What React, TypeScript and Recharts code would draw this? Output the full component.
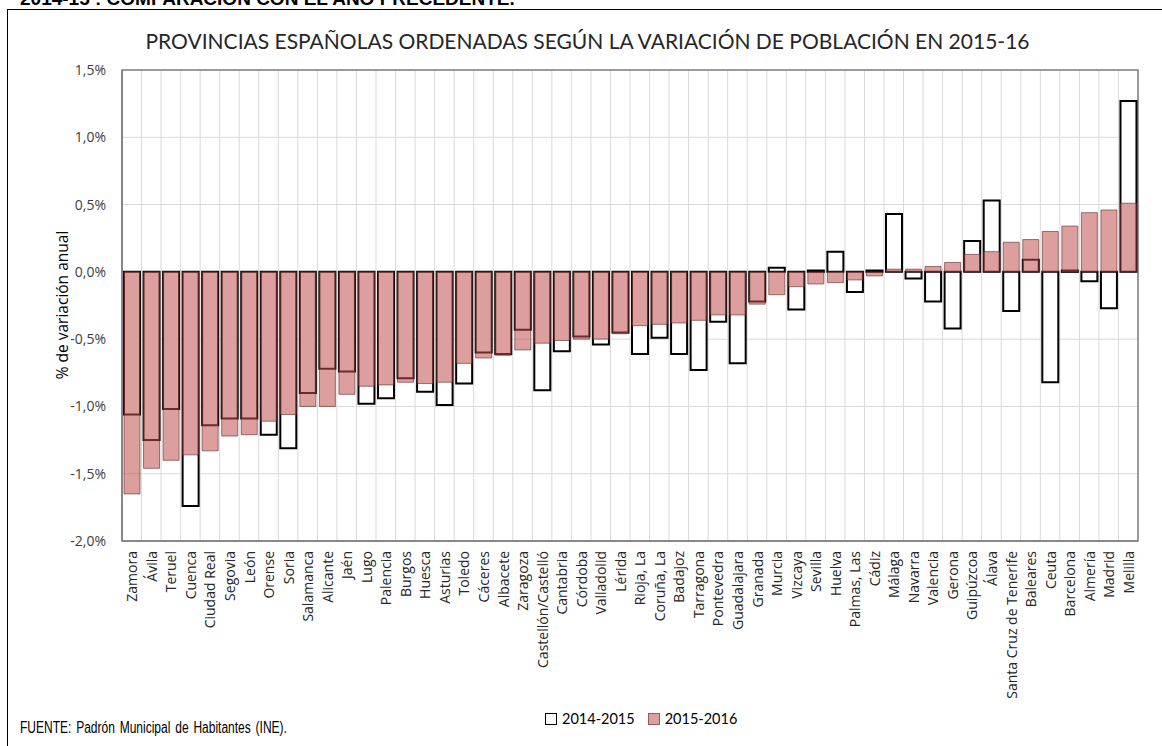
import React from 'react';
import { BarChart, Bar, XAxis, YAxis, CartesianGrid, ReferenceArea } from 'recharts';

// provincias ordenadas por variación 2015-16
const provincias = [
  'Zamora', 'Ávila', 'Teruel', 'Cuenca', 'Ciudad Real', 'Segovia', 'León', 'Orense', 'Soria',
  'Salamanca', 'Alicante', 'Jaén', 'Lugo', 'Palencia', 'Burgos', 'Huesca', 'Asturias', 'Toledo',
  'Cáceres', 'Albacete', 'Zaragoza', 'Castellón/Castelló', 'Cantabria', 'Córdoba', 'Valladolid',
  'Lérida', 'Rioja, La', 'Coruña, La', 'Badajoz', 'Tarragona', 'Pontevedra', 'Guadalajara',
  'Granada', 'Murcia', 'Vizcaya', 'Sevilla', 'Huelva', 'Palmas, Las', 'Cádiz', 'Málaga', 'Navarra',
  'Valencia', 'Gerona', 'Guipúzcoa', 'Álava', 'Santa Cruz de Tenerife', 'Baleares', 'Ceuta',
  'Barcelona', 'Almería', 'Madrid', 'Melilla',
];

const var1415 = [
  -1.06, -1.25, -1.02, -1.74, -1.14, -1.09, -1.09, -1.21, -1.31,
  -0.9, -0.72, -0.74, -0.98, -0.94, -0.79, -0.89, -0.99, -0.83,
  -0.6, -0.61, -0.43, -0.88, -0.59, -0.48, -0.54,
  -0.45, -0.61, -0.49, -0.61, -0.73, -0.37, -0.68,
  -0.22, 0.03, -0.28, 0.01, 0.15, -0.15, 0.01, 0.43, -0.05,
  -0.22, -0.42, 0.23, 0.53, -0.29, 0.09, -0.82,
  0.01, -0.07, -0.27, 1.27,
];

const var1516 = [
  -1.65, -1.46, -1.4, -1.36, -1.33, -1.22, -1.21, -1.11, -1.06,
  -1.0, -1.0, -0.91, -0.85, -0.84, -0.82, -0.83, -0.82, -0.68,
  -0.64, -0.62, -0.58, -0.53, -0.51, -0.5, -0.5,
  -0.46, -0.4, -0.39, -0.38, -0.36, -0.32, -0.32,
  -0.24, -0.17, -0.11, -0.09, -0.08, -0.06, -0.03, 0.02, 0.02,
  0.04, 0.07, 0.13, 0.15, 0.22, 0.24, 0.3,
  0.34, 0.44, 0.46, 0.51,
];

const yTicks = [-2, -1.5, -1, -0.5, 0, 0.5, 1, 1.5];

const data = provincias.map((p, i) => ({ provincia: p, v1415: var1415[i], v1516: var1516[i] }));

const fmtPct = (v: number) => v.toFixed(1).replace('.', ',') + '%';

const ProvTick = ({ x, y, payload }: any) => (
  <text
    x={x}
    y={y}
    transform={`rotate(-90, ${x}, ${y})`}
    textAnchor="end"
    dominantBaseline="central"
    fontFamily="'Open Sans', sans-serif"
    fontSize={14}
    fill="#262626"
  >
    {payload.value}
  </text>
);

// vertical grid lines on the category boundaries
const boundaries = ({ offset }: any) =>
  provincias.map((_, i) => offset.left + (i * offset.width) / provincias.length).concat(offset.left + offset.width);

export default function App() {
  return (
    <div style={{ position: 'absolute', left: 0, top: 0, width: 1162, height: 746, background: '#fff', overflow: 'hidden' }}>
      <div
        style={{
          position: 'absolute', left: 20, top: -12, fontFamily: "'Liberation Sans', Arial, sans-serif",
          fontWeight: 'bold', fontSize: 19, color: '#000', whiteSpace: 'nowrap',
        }}
      >
        2014-15 : COMPARACIÓN CON EL AÑO PRECEDENTE.
      </div>
      <div style={{ position: 'absolute', left: 7, top: 9, width: 1200, height: 800, border: '1px solid #000' }} />

      <div
        style={{
          position: 'absolute', left: 0, top: 28, width: 1175, textAlign: 'center',
          fontFamily: "Lato, sans-serif", fontSize: 21, color: '#262626', whiteSpace: 'nowrap',
        }}
      >
        PROVINCIAS ESPAÑOLAS ORDENADAS SEGÚN LA VARIACIÓN DE POBLACIÓN EN 2015-16
      </div>

      <div
        style={{
          position: 'absolute', left: 62, top: 305, transform: 'translate(-50%, -50%) rotate(-90deg)',
          fontFamily: "'Open Sans', sans-serif", fontSize: 15.5, color: '#000', whiteSpace: 'nowrap',
        }}
      >
        % de variación anual
      </div>

      <div style={{ position: 'absolute', left: 0, top: 0 }}>
        <BarChart
          width={1162}
          height={700}
          data={data}
          margin={{ top: 70, right: 24, left: 52, bottom: 9 }}
          barSize={16}
          barGap={-16}
        >
          <CartesianGrid stroke="#d9d9d9" verticalCoordinatesGenerator={boundaries} />
          <XAxis
            dataKey="provincia"
            interval={0}
            height={150}
            tickSize={0}
            tickMargin={10}
            tick={<ProvTick />}
            axisLine={{ stroke: '#808080', strokeWidth: 1.5 }}
          />
          <YAxis
            width={70}
            domain={[-2, 1.5]}
            ticks={yTicks}
            tickFormatter={fmtPct}
            tickSize={0}
            tickMargin={16}
            axisLine={{ stroke: '#808080', strokeWidth: 1.5 }}
            tick={{ fontFamily: "'Open Sans', sans-serif", fontSize: 14, fill: '#404040' }}
          />
          <ReferenceArea y1={-2} y2={1.5} fill="none" stroke="#808080" strokeWidth={1.5} />
          <Bar dataKey="v1415" name="2014-2015" fill="#ffffff" stroke="#000000" strokeWidth={2} isAnimationActive={false} />
          <Bar
            dataKey="v1516"
            name="2015-2016"
            fill="#C0504D"
            fillOpacity={0.55}
            stroke="#5a2a2a"
            strokeOpacity={0.6}
            strokeWidth={1}
            isAnimationActive={false}
          />
        </BarChart>
      </div>

      <div
        style={{
          position: 'absolute', left: 20, top: 719, fontFamily: "'Liberation Sans', Arial, sans-serif",
          fontSize: 16, wordSpacing: 2, color: '#000', whiteSpace: 'nowrap',
          transform: 'scaleX(0.75)', transformOrigin: 'left center',
        }}
      >
        FUENTE: Padrón Municipal de Habitantes (INE).
      </div>

      <div
        style={{
          position: 'absolute', left: 545, top: 710, display: 'flex', alignItems: 'center',
          fontFamily: "Lato, sans-serif", fontSize: 14.5, color: '#000', whiteSpace: 'nowrap',
        }}
      >
        <span style={{ width: 10, height: 10, border: '1px solid #000', background: '#fff', marginRight: 5 }} />
        <span style={{ marginRight: 13 }}>2014-2015</span>
        <span style={{ width: 10, height: 10, border: '1px solid #8a6060', background: '#DC9F9E', marginRight: 5 }} />
        <span>2015-2016</span>
      </div>
    </div>
  );
}
